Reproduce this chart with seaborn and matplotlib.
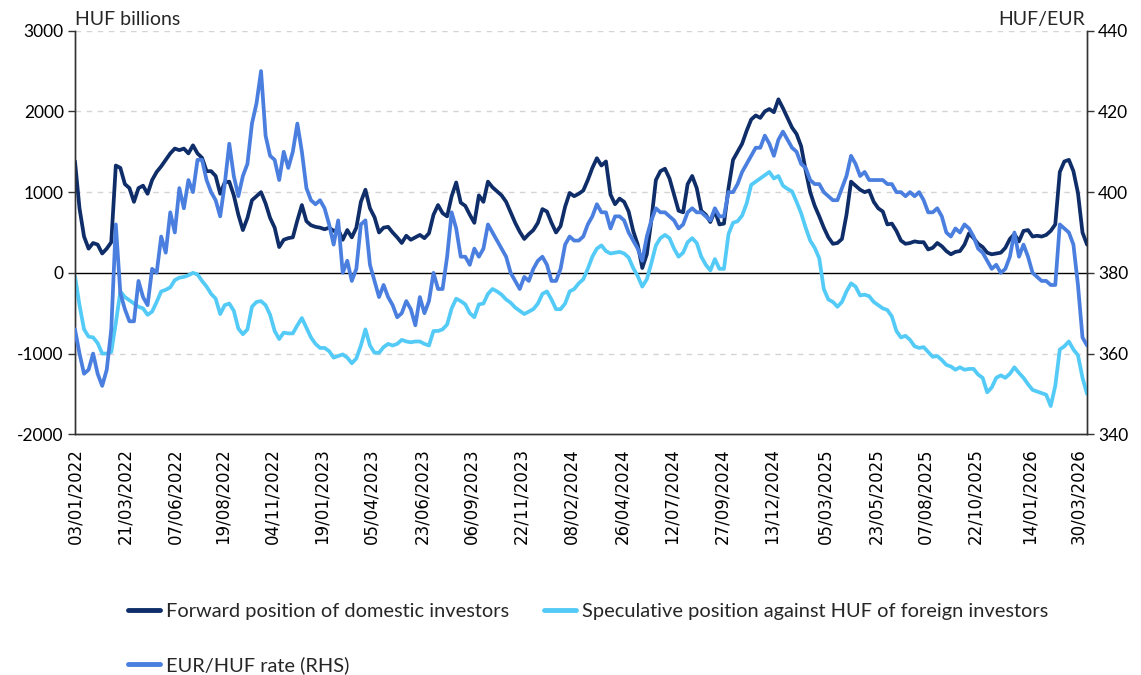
import matplotlib
matplotlib.use("Agg")
import matplotlib.pyplot as plt
from matplotlib.lines import Line2D
import numpy as np
import pandas as pd
import seaborn as sns

# Weekly observations, first week starting 03/01/2022
forward = [
    1384, 800, 450, 300, 370, 350, 240, 300, 380, 1330, 1300, 1100, 1050, 880,
    1050, 1080, 980, 1150, 1250, 1320, 1400, 1480, 1540, 1520, 1540, 1480, 1580, 1480,
    1425, 1260, 1260, 1200, 980, 1120, 1130, 960, 720, 530, 680, 900, 950, 1000,
    860, 680, 560, 320, 410, 430, 440, 650, 840, 640, 590, 570, 560, 540,
    560, 520, 540, 410, 530, 440, 560, 880, 1030, 800, 690, 500, 560, 570,
    500, 440, 370, 460, 410, 440, 470, 430, 490, 720, 840, 740, 700, 950,
    1120, 870, 830, 720, 620, 960, 880, 1130, 1060, 1010, 960, 880, 750, 620,
    510, 420, 480, 530, 620, 790, 760, 620, 500, 580, 820, 990, 950,
    980, 1020, 1150, 1300, 1420, 1330, 1380, 970, 850, 920, 880, 760, 520, 350,
    60, 230, 650, 1150, 1260, 1290, 1170, 970, 770, 750, 1100, 1200, 1050,
    770, 720, 630, 770, 600, 610, 1050, 1400, 1500, 1600, 1760, 1900, 1950, 1920,
    2000, 2030, 1990, 2150, 2040, 1920, 1800, 1720, 1570, 1270, 1000, 830, 700, 560,
    440, 360, 370, 420, 720, 1130, 1080, 1030, 1000, 1020, 880, 800, 760, 600,
    610, 520, 400, 360, 370, 390, 380, 380, 290, 310, 370, 330, 270,
    230, 260, 270, 350, 490, 430, 360, 320, 250, 230, 240, 250, 310, 420, 480,
    390, 520, 530, 450, 460, 450, 470, 520, 600, 1250, 1380, 1400, 1260, 990, 500, 350,
]

speculative = [
    -40, -400, -700, -790, -800, -870, -1000, -1000, -980, -620, -230, -300, -340, -380,
    -420, -440, -520, -480, -360, -230, -210, -180, -90, -60, -50, -30, 0, -20,
    -100, -170, -260, -320, -510, -400, -380, -470, -690, -760, -700, -420, -360, -350,
    -400, -520, -720, -820, -740, -750, -750, -650, -560, -680, -800, -880, -930, -930,
    -970, -1050, -1030, -1010, -1050, -1120, -1060, -900, -700, -900, -990, -990, -920, -880,
    -900, -880, -830, -850, -860, -850, -850, -880, -900, -720, -720, -700, -640, -440,
    -320, -350, -390, -500, -550, -390, -380, -260, -200, -230, -270, -330, -370, -430,
    -470, -510, -480, -450, -380, -260, -230, -330, -450, -450, -380, -230, -200,
    -130, -80, 50, 200, 300, 340, 270, 240, 250, 260, 240, 190, 60, -40,
    -170, -80, 120, 340, 430, 470, 430, 300, 200, 250, 380, 430, 370,
    200, 100, 30, 170, 50, 50, 480, 620, 640, 710, 860, 1090, 1130, 1170,
    1210, 1250, 1170, 1200, 1080, 1040, 1010, 880, 740, 560, 400, 310, 180, -200,
    -330, -360, -420, -360, -230, -130, -170, -280, -270, -290, -360, -400, -440, -460,
    -540, -720, -800, -780, -830, -910, -930, -920, -980, -1040, -1030, -1080, -1140,
    -1160, -1200, -1170, -1200, -1190, -1190, -1260, -1300, -1480, -1420, -1300, -1270, -1300, -1250, -1170,
    -1240, -1300, -1380, -1450, -1470, -1490, -1510, -1650, -1400, -950, -910, -850, -950, -1020, -1300, -1500,
]

eurhuf = [
    366, 360, 355, 356, 360, 355, 352, 356, 366, 392, 375, 371, 368, 368,
    378, 374, 372, 381, 380, 389, 385, 395, 390, 401, 396, 403, 400, 408,
    408, 403, 400, 398, 394, 402, 412, 404, 399, 404, 407, 417, 422, 430,
    414, 409, 408, 403, 410, 406, 410, 417, 410, 401, 398, 397, 398, 396,
    392, 387, 393, 380, 383, 378, 381, 392, 393, 382, 378, 374, 377, 374,
    372, 369, 370, 373, 371, 367, 374, 370, 373, 380, 376, 376, 384, 395,
    391, 384, 384, 382, 386, 384, 386, 392, 390, 388, 386, 384, 380, 378,
    376, 379, 378, 381, 383, 384, 382, 378, 378, 381, 387, 389, 388,
    388, 389, 392, 394, 397, 395, 395, 391, 394, 394, 393, 390, 388, 386,
    383, 389, 393, 396, 395, 395, 394, 393, 391, 392, 395, 396, 395,
    395, 394, 393, 396, 394, 394, 400, 400, 402, 405, 407, 409, 411, 411,
    414, 412, 409, 413, 415, 413, 411, 410, 407, 406, 403, 402, 402, 400,
    399, 398, 398, 401, 404, 409, 407, 404, 405, 403, 403, 403, 403, 402,
    402, 400, 400, 399, 400, 399, 400, 398, 395, 395, 396, 394, 390,
    389, 391, 390, 392, 391, 389, 386, 385, 383, 381, 382, 380, 381, 384, 390,
    384, 387, 384, 380, 379, 378, 378, 377, 377, 392, 391, 390, 387, 377, 364, 362,
]

tick_labels = [
    "03/01/2022", "21/03/2022", "07/06/2022", "19/08/2022", "04/11/2022",
    "19/01/2023", "05/04/2023", "23/06/2023", "06/09/2023", "22/11/2023",
    "08/02/2024", "26/04/2024", "12/07/2024", "27/09/2024", "13/12/2024",
    "05/03/2025", "23/05/2025", "07/08/2025", "22/10/2025", "14/01/2026",
    "30/03/2026",
]

label_fwd = "Forward position of domestic investors"
label_spec = "Speculative position against HUF of foreign investors"
label_fx = "EUR/HUF rate (RHS)"

c_fwd = "#0f2e69"
c_spec = "#54cbf7"
c_fx = "#4a7fdf"

dates = pd.date_range("2022-01-03", periods=len(forward), freq="7D")
df = pd.DataFrame({"date": dates, "forward": forward,
                   "speculative": speculative, "eurhuf": eurhuf})

sns.set_theme(style="white")
plt.rcParams["font.family"] = ["Lato", "DejaVu Sans"]
plt.rcParams["axes.unicode_minus"] = False

fig = plt.figure(figsize=(11.41, 6.75), dpi=100)
ax = fig.add_axes([0.0657, 0.3566, 0.8870, 0.5979])
ax2 = ax.twinx()

lw = 2.7
sns.lineplot(data=df, x="date", y="forward", ax=ax, color=c_fwd, lw=lw, zorder=3)
sns.lineplot(data=df, x="date", y="speculative", ax=ax, color=c_spec, lw=lw, zorder=3)
sns.lineplot(data=df, x="date", y="eurhuf", ax=ax2, color=c_fx, lw=lw, zorder=3)

# left axis: positions in HUF billions
ax.set_ylim(-2000, 3000)
ax.set_yticks(np.arange(-2000, 3001, 1000))
ax.axhline(0, color="black", lw=1.0, zorder=2)
for v in range(-1000, 3001, 1000):
    if v != 0:
        ax.axhline(v, color="#d4d4d4", lw=1.0, ls=(0, (4, 4)), zorder=1)
ax.set_xlim(dates[0], dates[-1])
ax.set_xlabel("")
ax.set_ylabel("")

# right axis: exchange rate
ax2.set_ylim(340, 440)
ax2.set_yticks(np.arange(340, 441, 20))
ax2.set_ylabel("")

tick_dates = pd.to_datetime(tick_labels, format="%d/%m/%Y")
ax.set_xticks(tick_dates)
ax.set_xticklabels(tick_labels, rotation=90, fontsize=12, family="DejaVu Sans")

for a in (ax, ax2):
    a.spines["top"].set_visible(False)
    for s in ("left", "right", "bottom"):
        a.spines[s].set_color("#333333")
        a.spines[s].set_linewidth(1.0)
    a.grid(False)

ax.tick_params(axis="y", direction="out", length=5, width=1, colors="#333333",
               labelsize=12.5, labelcolor="black", pad=3)
ax.tick_params(axis="x", direction="out", length=6, width=1, colors="#333333",
               labelcolor="black", pad=4)
ax2.tick_params(axis="y", direction="out", length=5, width=1, colors="#333333",
                labelsize=12.5, labelcolor="black", pad=3)

ax.text(0.0, 1.006, "HUF billions", transform=ax.transAxes, ha="left",
        va="bottom", fontsize=14)
ax2.text(0.998, 1.006, "HUF/EUR", transform=ax2.transAxes, ha="right",
         va="bottom", fontsize=14)

handles = [Line2D([], [], color=c_fwd, lw=3.5),
           Line2D([], [], color=c_fx, lw=3.5),
           Line2D([], [], color=c_spec, lw=3.5)]
labels = [label_fwd, label_fx, label_spec]
fig.legend(handles, labels, loc="upper left", bbox_to_anchor=(0.112, 0.107),
           ncol=2, frameon=False, fontsize=14.4, handlelength=1.6,
           handletextpad=0.3, columnspacing=1.75, labelspacing=1.8,
           borderpad=0, borderaxespad=0)

fig.savefig("out.png", dpi=100)
